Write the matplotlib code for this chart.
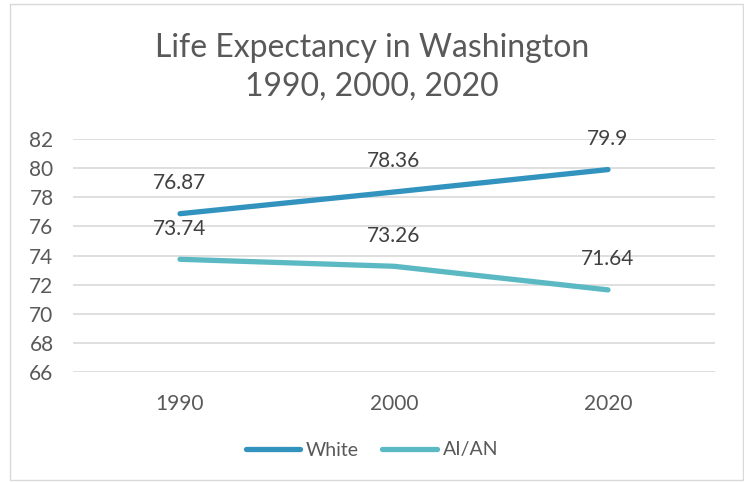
import matplotlib.pyplot as plt
from matplotlib.patches import Rectangle

years = ['1990', '2000', '2020']
white = [76.87, 78.36, 79.9]
aian = [73.74, 73.26, 71.64]

plt.rcParams['font.family'] = ['Lato', 'DejaVu Sans']
TXT = '#595959'

fig = plt.figure(figsize=(7.44, 4.82), dpi=100)
fig.patches.append(Rectangle((10 / 744, 2 / 482), 733 / 744, 476 / 482, transform=fig.transFigure,
                             fill=False, edgecolor='#d9d9d9', linewidth=1))
ax = fig.add_axes([73 / 744, 1 - 372 / 482, 642 / 744, 233 / 482])

x = range(len(years))
ax.plot(x, white, color='#3193be', linewidth=3.8, solid_capstyle='round', label='White')
ax.plot(x, aian, color='#5bb9c3', linewidth=3.8, solid_capstyle='round', label='AI/AN')

for xi, v in zip(x, white):
    ax.annotate(f'{v:g}', (xi, v), xytext=(0, 22), textcoords='offset points',
                ha='center', va='center', fontsize=15, color='#404040')
for xi, v in zip(x, aian):
    ax.annotate(f'{v:g}', (xi, v), xytext=(0, 22), textcoords='offset points',
                ha='center', va='center', fontsize=15, color='#404040')

ax.set_xlim(-0.5, 2.5)
ax.set_ylim(66, 82)
ax.set_yticks(range(66, 83, 2))
ax.set_xticks(list(x))
ax.set_xticklabels(years)
ax.tick_params(length=0, labelsize=15, labelcolor=TXT)
ax.tick_params(axis='x', pad=16)
ax.tick_params(axis='y', pad=14)
ax.grid(axis='y', color='#d9d9d9', linewidth=1.2)
ax.set_axisbelow(True)
for s in ax.spines.values():
    s.set_visible(False)

fig.text(0.5, 1 - 67 / 482, 'Life Expectancy in Washington\n1990, 2000, 2020', ha='center', va='center',
         fontsize=23, color=TXT, linespacing=1.35)

fig.legend(loc='center', bbox_to_anchor=(0.5, 1 - 450 / 482), ncol=2, frameon=False,
           fontsize=14, labelcolor=TXT, handlelength=2.8, handletextpad=0.3, columnspacing=1.2)

fig.savefig('out.png', dpi=100)
